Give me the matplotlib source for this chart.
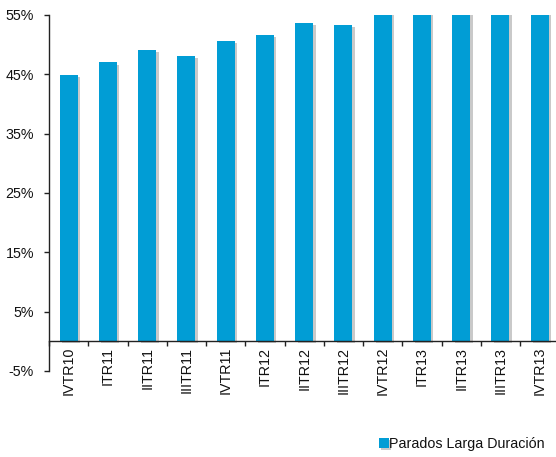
import matplotlib
matplotlib.use("Agg")
import matplotlib.pyplot as plt
import matplotlib.patheffects as pe
from matplotlib.ticker import FuncFormatter, FixedLocator

categories = ["IVTR10", "ITR11", "IITR11", "IIITR11", "IVTR11", "ITR12", "IITR12",
              "IIITR12", "IVTR12", "ITR13", "IITR13", "IIITR13", "IVTR13"]
values = [44.9, 47.0, 49.1, 48.1, 50.7, 51.7, 53.7, 53.3, 56.1, 57.0, 57.5, 58.2, 58.6]
series_name = "Parados Larga Duración"
yticks = [-5, 5, 15, 25, 35, 45, 55]

plt.rcParams['font.family'] = ['Liberation Sans', 'DejaVu Sans']
fig = plt.figure(figsize=(5.56, 4.57), dpi=100)
ax = fig.add_axes([49 / 556, 86 / 457, 510.3 / 556, 356 / 457])

x = list(range(len(categories)))
bars = ax.bar(x, values, width=0.46, color='#019dd5', zorder=3,
              label=series_name)
for b in bars:
    b.set_path_effects([pe.SimplePatchShadow(offset=(1.8, -1.5), shadow_rgbFace='#888888', alpha=0.45),
                        pe.Normal()])

ax.set_xlim(-0.5, len(categories) - 0.5)
ax.set_ylim(-5, 55)
ax.yaxis.set_major_locator(FixedLocator(yticks))
ax.yaxis.set_major_formatter(FuncFormatter(lambda v, p: f"{v:.0f}%"))

ax.spines['top'].set_visible(False)
ax.spines['right'].set_visible(False)
ax.spines['bottom'].set_position(('data', 0))
for s in ('left', 'bottom'):
    ax.spines[s].set_color('#222222')
    ax.spines[s].set_linewidth(1.0)
    ax.spines[s].set_zorder(5)

ax.set_xticks([i + 0.5 for i in range(-1, len(categories))])
ax.set_xticklabels([])
ax.set_xticks(x, minor=True)
ax.set_xticklabels(categories, minor=True, rotation=90, fontsize=10.3, color='#111111')
ax.tick_params(axis='x', which='major', direction='out', length=3.5, width=1, color='#222222')
ax.tick_params(axis='x', which='minor', length=0, pad=4)
ax.tick_params(axis='y', direction='out', length=3.8, width=1, color='#222222',
               labelsize=10.3, labelcolor='#111111', pad=7)

leg = fig.legend(handles=[bars], labels=[series_name], loc='center right',
                 bbox_to_anchor=(545 / 556, 1 - 444 / 457), frameon=False,
                 fontsize=10.3, handlelength=0.7, handleheight=0.7, handletextpad=0.05,
                 borderaxespad=0, borderpad=0)
for t in leg.get_texts():
    t.set_color('#111111')

fig.savefig("out.png", dpi=100)
